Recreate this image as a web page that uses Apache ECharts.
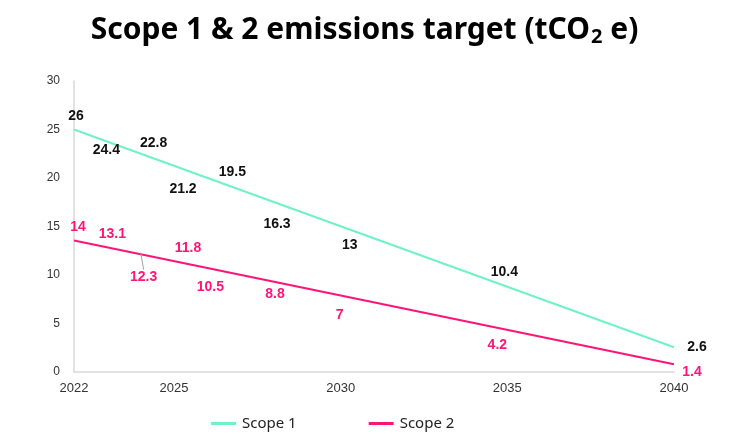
<!DOCTYPE html>
<html>
<head>
<meta charset="utf-8">
<script src="https://cdn.jsdelivr.net/npm/echarts@6/dist/echarts.min.js"></script>
<style>
  html, body { margin: 0; padding: 0; background: #fff; }
  #chart { width: 729px; height: 434px; }
</style>
</head>
<body>
<div id="chart"></div>
<script>
// target years and values
const years = [2022, 2023, 2024, 2025, 2026, 2028, 2030, 2035, 2040];
const scope1 = [26, 24.4, 22.8, 21.2, 19.5, 16.3, 13, 10.4, 2.6];
const scope2 = [14, 13.1, 12.3, 11.8, 10.5, 8.8, 7, 4.2, 1.4];

// linear trend lines drawn in the original (start / end values)
const trendYears = [2022, 2040];
const scope1Trend = [25.0, 2.55];
const scope2Trend = [13.55, 0.8];

const xTicks = [2022, 2025, 2030, 2035, 2040];

// label nudges (px) so labels sit where the original put them
const scope1Shift = [[2, -4], [-1, 15], [13, -8], [9, 23], [25, -11], [3, 10], [9, -1], [-3, 1], [23, 0]];
const scope2Shift = [[4, -9], [5, -11], [3, 24], [14, -9], [3, 17], [1, 8], [-1, 11], [-10, 14], [18, 14]];

const MINT = '#6ff2c6';
const PINK = '#ff1478';

function pairs(xs, ys) {
  return xs.map((x, i) => [x, ys[i]]);
}

function labelSeries(values, shift, color, guideIndex) {
  return {
    type: 'scatter',
    symbolSize: 0,
    silent: true,
    itemStyle: { opacity: 1, color: color },
    data: pairs(years, values).map((p, i) => ({
      value: p,
      labelLine: { show: i === guideIndex, lineStyle: { color: '#a0a0a0', width: 1 } }
    })),
    label: {
      show: true,
      position: 'inside',
      formatter: (p) => p.value[1],
      color: color,
      textBorderWidth: 0,
      textBorderColor: 'transparent',
      fontFamily: 'Liberation Sans',
      fontWeight: 'bold',
      fontSize: 14
    },
    labelLayout: (params) => ({
      dx: shift[params.dataIndex][0],
      dy: shift[params.dataIndex][1]
    }),
    z: 5
  };
}

const chart = echarts.init(document.getElementById('chart'));

const option = {
  animation: false,
  title: {
    text: '{t|Scope 1 & 2 emissions target (tCO}{s|2}{t| e)}',
    left: 'center',
    top: 9,
    textStyle: {
      rich: {
        t: { fontFamily: 'Noto Sans', fontWeight: 'bold', fontSize: 30, color: '#000' },
        s: { fontFamily: 'Noto Sans', fontWeight: 'bold', fontSize: 20, color: '#000', padding: [13, 0, 0, 1] }
      }
    }
  },
  grid: { left: 74, right: 55, top: 81, bottom: 62 },
  legend: {
    left: 206,
    top: 411,
    icon: 'rect',
    itemWidth: 25,
    itemHeight: 3,
    itemGap: 72,
    data: ['Scope 1', 'Scope 2'],
    textStyle: { fontFamily: 'Noto Sans', fontSize: 15, color: '#222', padding: [0, 0, 0, 1] }
  },
  xAxis: {
    type: 'value',
    min: 2022,
    max: 2040,
    splitLine: { show: false },
    axisTick: { show: false },
    axisLine: { show: true, lineStyle: { color: '#d9d9d9', width: 1.5 } },
    axisLabel: {
      customValues: xTicks,
      formatter: (v) => String(v),
      margin: 10,
      color: '#333',
      fontFamily: 'Liberation Sans',
      fontSize: 13
    }
  },
  yAxis: {
    type: 'value',
    min: 0,
    max: 30,
    interval: 5,
    splitLine: { show: false },
    axisTick: { show: false },
    axisLine: { show: true, lineStyle: { color: '#d9d9d9', width: 1.5 } },
    axisLabel: {
      margin: 14,
      color: '#333',
      fontFamily: 'Liberation Sans',
      fontSize: 12
    }
  },
  series: [
    {
      name: 'Scope 1',
      type: 'line',
      symbol: 'none',
      silent: true,
      data: pairs(trendYears, scope1Trend),
      lineStyle: { color: MINT, width: 2 },
      itemStyle: { color: MINT }
    },
    {
      name: 'Scope 2',
      type: 'line',
      symbol: 'none',
      silent: true,
      data: pairs(trendYears, scope2Trend),
      lineStyle: { color: PINK, width: 2 },
      itemStyle: { color: PINK }
    },
    labelSeries(scope1, scope1Shift, '#111', -1),
    labelSeries(scope2, scope2Shift, PINK, 2)
  ]
};

chart.setOption(option);
</script>
</body>
</html>
